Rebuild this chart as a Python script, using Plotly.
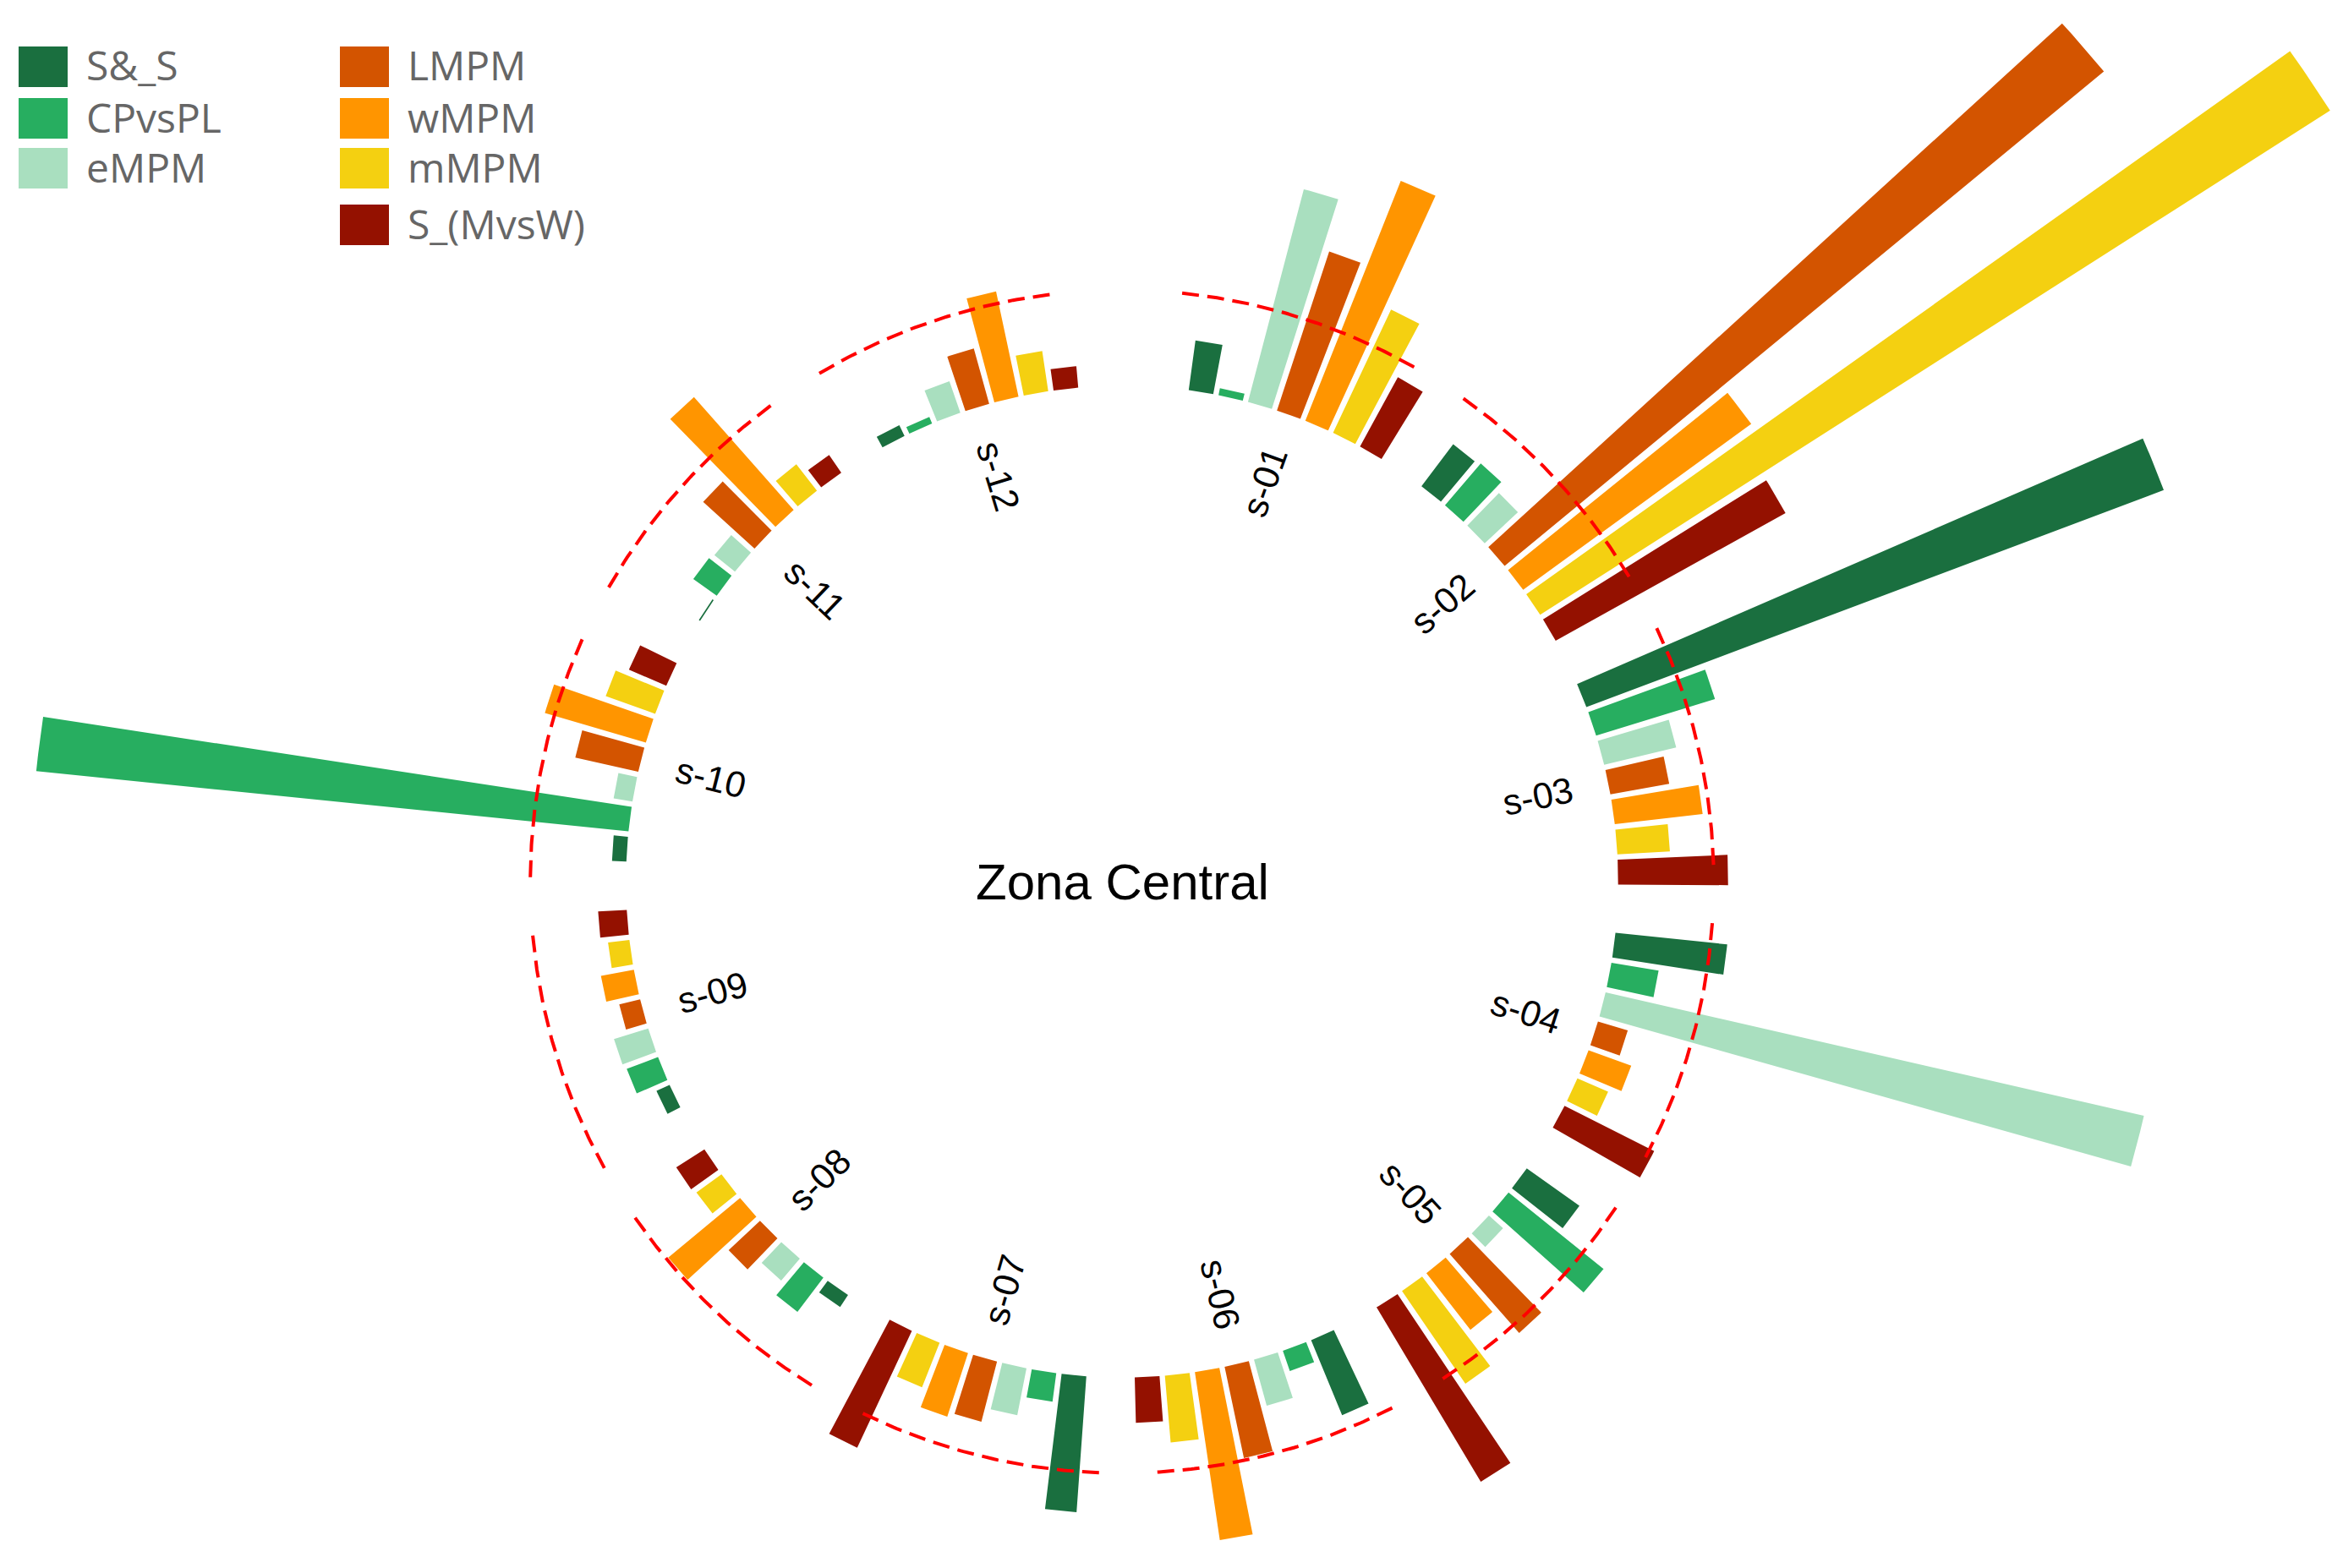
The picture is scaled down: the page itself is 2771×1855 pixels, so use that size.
import numpy as np
import plotly.graph_objects as go

# ---------------- data ----------------
groups = ["s-01", "s-02", "s-03", "s-04", "s-05", "s-06",
          "s-07", "s-08", "s-09", "s-10", "s-11", "s-12"]
series = ["S&_S", "CPvsPL", "eMPM", "LMPM", "wMPM", "mMPM", "S_(MvsW)"]

S_and_S  = [1.05, 1.10, 12.90, 2.35, 1.35, 1.70, 2.85, 0.30, 0.30, 0.30, 0.03, 0.25]
CPvsPL   = [0.15, 1.15, 2.60, 1.00, 2.55, 0.45, 0.60, 0.90, 0.70, 12.45, 0.60, 0.15]
eMPM     = [4.60, 0.95, 1.55, 11.55, 0.40, 1.00, 1.00, 0.60, 0.75, 0.40, 0.55, 0.70]
LMPM     = [3.50, 16.25, 1.25, 0.65, 2.20, 1.95, 1.30, 0.90, 0.45, 1.35, 1.45, 1.20]
wMPM     = [5.40, 5.90, 1.85, 0.95, 1.50, 3.55, 1.40, 1.95, 0.70, 2.20, 3.15, 2.25]
mMPM     = [2.85, 19.60, 1.10, 0.70, 2.35, 1.40, 1.00, 0.65, 0.45, 1.10, 0.70, 0.85]
S_MvsW   = [1.65, 5.50, 2.30, 2.10, 4.25, 0.95, 2.70, 0.70, 0.60, 0.85, 0.45, 0.45]

threshold = 2.0
center_label = "Zona Central"

values = [S_and_S, CPvsPL, eMPM, LMPM, wMPM, mMPM, S_MvsW]
colors = ["#1A6F3F", "#27AE60", "#A9DFBF", "#D35400", "#FF9500", "#F4D011", "#941100"]

# ---------------- geometry / style ----------------
W, H = 2771, 1855
CX, CY = 1327, 1043          # pixel position of the circle centre
PX_PER_UNIT = 56.55           # pixels per value unit
R0 = 10.375                   # inner hole radius (value units)
LABEL_R = 8.875
FIRST_CENTER = 19.63          # angle (deg, clockwise from north) of first group centre
GROUP_PERIOD = 29.40          # angular period between groups
BAR_STEP = 3.49               # angular step between bars inside a group
BAR_WIDTH = 2.87              # angular width of a bar
ARC_BEFORE = 13.8             # dashed arc start, deg before group centre
ARC_AFTER = 10.7              # dashed arc end, deg after group centre

xr = [-CX / PX_PER_UNIT, (W - CX) / PX_PER_UNIT]
yr = [-(H - CY) / PX_PER_UNIT, CY / PX_PER_UNIT]


def group_center(g):
    return FIRST_CENTER + GROUP_PERIOD * g


def bar_angle(g, j, nser):
    return group_center(g) + (j - (nser - 1) / 2) * BAR_STEP


def wedge(theta_c, v):
    hw = BAR_WIDTH / 2
    a = np.radians(np.linspace(theta_c - hw, theta_c + hw, 14))
    ro = R0 + v
    xs = np.concatenate([R0 * np.sin(a), ro * np.sin(a[::-1]), [R0 * np.sin(a[0])]])
    ys = np.concatenate([R0 * np.cos(a), ro * np.cos(a[::-1]), [R0 * np.cos(a[0])]])
    return xs, ys


fig = go.Figure()

for j, (name, vals, col) in enumerate(zip(series, values, colors)):
    X, Y = [], []
    for g, v in enumerate(vals):
        xs, ys = wedge(bar_angle(g, j, len(series)), v)
        X += list(xs) + [None]
        Y += list(ys) + [None]
    fig.add_trace(go.Scatter(
        x=X, y=Y, mode="lines", fill="toself", fillcolor=col,
        line=dict(width=0, color=col), name=name, showlegend=False,
        hoverinfo="skip"))

# dashed threshold arcs (one per group)
for g in range(len(groups)):
    a0 = group_center(g) - ARC_BEFORE
    a1 = group_center(g) + ARC_AFTER
    a = np.radians(np.linspace(a0, a1, 80))
    rr = R0 + threshold
    fig.add_trace(go.Scatter(
        x=rr * np.sin(a), y=rr * np.cos(a), mode="lines",
        line=dict(color="#FF0000", width=4, dash="20px,10px"),
        showlegend=False, hoverinfo="skip"))

annotations = []
# group labels
for g, lab in enumerate(groups):
    th = group_center(g)
    ang = th - 90 if th < 180 else th - 270
    t = np.radians(th)
    annotations.append(dict(
        x=LABEL_R * np.sin(t), y=LABEL_R * np.cos(t), xref="x", yref="y",
        text=lab, showarrow=False, textangle=ang,
        xanchor="center", yanchor="middle",
        font=dict(family="Liberation Sans, Arial, sans-serif", size=43, color="#000000")))

annotations.append(dict(
    x=0, y=0, xref="x", yref="y", text=center_label, showarrow=False,
    xanchor="center", yanchor="middle",
    font=dict(family="Liberation Sans, Arial, sans-serif", size=60, color="#000000")))

# legend (two columns, drawn as swatches + text)
shapes = []
col_x = [22, 402]
row_top = [55, 116, 175, 242]
layout_pos = [(0, 0), (0, 1), (0, 2), (1, 0), (1, 1), (1, 2), (1, 3)]
SW, SH = 58, 48
for (c, r), name, col in zip(layout_pos, series, colors):
    x0 = col_x[c]
    y0 = row_top[r]
    shapes.append(dict(type="rect", xref="paper", yref="paper",
                       x0=x0 / W, x1=(x0 + SW) / W,
                       y0=1 - (y0 + SH) / H, y1=1 - y0 / H,
                       fillcolor=col, line=dict(width=0)))
    annotations.append(dict(
        x=(x0 + SW + 20) / W, y=1 - (y0 + SH / 2 - 2) / H,
        xref="paper", yref="paper", text=name, showarrow=False,
        xanchor="left", yanchor="middle",
        font=dict(family="Open Sans, sans-serif", size=48, color="#666666")))

fig.update_layout(
    width=W, height=H, autosize=False,
    margin=dict(l=0, r=0, t=0, b=0),
    paper_bgcolor="white", plot_bgcolor="white",
    xaxis=dict(range=xr, visible=False, showgrid=False, zeroline=False, fixedrange=True),
    yaxis=dict(range=yr, visible=False, showgrid=False, zeroline=False, fixedrange=True),
    showlegend=False,
    annotations=annotations, shapes=shapes,
)

fig.write_html("out.html",
               config={"displayModeBar": False, "staticPlot": True},
               post_script="document.body.style.margin='0px';"
                           "document.body.style.overflow='hidden';")
